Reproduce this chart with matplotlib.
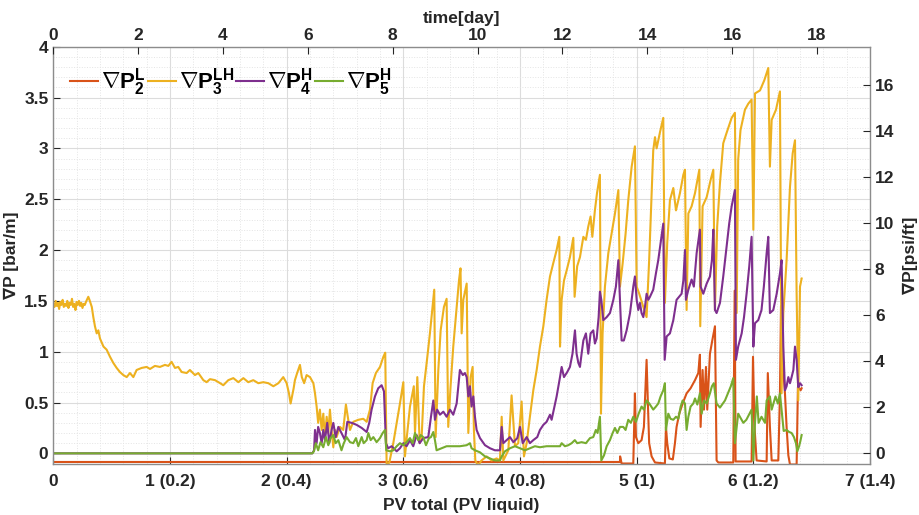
import matplotlib
matplotlib.use("Agg")
import matplotlib.pyplot as plt
from matplotlib.ticker import MultipleLocator

plt.rcParams['font.family'] = ['Liberation Sans', 'DejaVu Sans']
plt.rcParams['font.weight'] = 'bold'
plt.rcParams['mathtext.fontset'] = 'custom'
plt.rcParams['mathtext.rm'] = 'Liberation Sans:bold'
plt.rcParams['mathtext.bf'] = 'Liberation Sans:bold'
plt.rcParams['mathtext.it'] = 'Liberation Sans:bold'

BAR_M_TO_PSI_FT = 4.4207
DAYS_PER_PV = 2.75

# --- dP2^L (lower section) ---
red_x = [0.0, 4.857, 4.858, 4.871, 4.971, 4.985, 4.994, 5.014, 5.042, 5.062, 5.085, 5.097,
         5.107, 5.128, 5.157, 5.242, 5.251, 5.262, 5.28, 5.31, 5.328, 5.342, 5.365, 5.394,
         5.428, 5.462, 5.50, 5.528, 5.542, 5.548, 5.565, 5.577, 5.594, 5.605, 5.628, 5.648,
         5.671, 5.685, 5.70, 5.828, 5.84, 5.848, 5.985, 5.997, 6.01, 6.028, 6.114, 6.124,
         6.142, 6.157, 6.214, 6.228, 6.237, 6.25, 6.271, 6.285, 6.30, 6.314, 6.371, 6.382,
         6.394, 6.405, 6.414]
red_y = [-0.085, -0.085, -0.03, -0.1, -0.1, 0.59, 0.16, 0.10, 0.13, 0.26, 0.92, 0.46,
         0.10, -0.03, -0.09, -0.1, 0.26, 0.10, -0.05, -0.06, 0.10, 0.26, 0.39, 0.49,
         0.59, 0.64, 0.72, 0.79, 0.97, 0.26, 0.82, 0.43, 0.85, 0.43, 0.98, 1.11,
         1.25, -0.07, -0.09, -0.09, 1.6, -0.08, -0.08, 0.95, 0.26, -0.07, -0.08, 0.79,
         0.26, -0.07, -0.07, 0.59, 1.45, 0.92, 0.59, 0.26, -0.02, -0.11, -0.11, 0.65,
         0.64, 0.62, 0.64]

# --- dP3^LH (across both sections) ---
yel_x = [0.0, 0.01, 0.02, 0.03, 0.04, 0.05, 0.06, 0.07, 0.08, 0.09, 0.10, 0.11, 0.12, 0.13,
         0.14, 0.15, 0.16, 0.17, 0.18, 0.19, 0.20, 0.21, 0.22, 0.23, 0.24, 0.25, 0.26, 0.27,
         0.28, 0.30, 0.31, 0.33, 0.343, 0.357, 0.372, 0.386, 0.40, 0.43, 0.457, 0.486, 0.514,
         0.543, 0.571, 0.60, 0.629, 0.657, 0.686, 0.714, 0.757, 0.80, 0.829, 0.871, 0.914,
         0.957, 0.986, 1.014, 1.043, 1.071, 1.10, 1.143, 1.171, 1.214, 1.243, 1.286, 1.314,
         1.343, 1.386, 1.43, 1.457, 1.50, 1.543, 1.586, 1.629, 1.671, 1.714, 1.757, 1.80,
         1.843, 1.886, 1.929, 1.971, 2.0, 2.02, 2.034, 2.06, 2.071, 2.09, 2.114, 2.13, 2.15,
         2.171, 2.20, 2.229, 2.243, 2.257, 2.27, 2.285, 2.30, 2.314, 2.328, 2.343, 2.357,
         2.371, 2.385, 2.40, 2.414, 2.428, 2.457, 2.485, 2.508, 2.528, 2.543, 2.571, 2.614,
         2.657, 2.686, 2.714, 2.737, 2.765, 2.80, 2.829, 2.845, 2.857, 2.88, 2.914, 2.943,
         2.971, 3.0, 3.014, 3.03, 3.057, 3.09, 3.10, 3.12, 3.14, 3.157, 3.177, 3.20, 3.228,
         3.25, 3.265, 3.277, 3.30, 3.32, 3.348, 3.371, 3.385, 3.405, 3.428, 3.457, 3.477,
         3.49, 3.50, 3.514, 3.543, 3.557, 3.577, 3.594, 3.605, 3.617, 3.64, 3.67, 3.714,
         3.757, 3.80, 3.828, 3.843, 3.857, 3.90, 3.928, 3.957, 3.985, 4.014, 4.034, 4.057,
         4.085, 4.114, 4.143, 4.171, 4.20, 4.228, 4.257, 4.285, 4.314, 4.337, 4.343, 4.357,
         4.377, 4.40, 4.428, 4.457, 4.468, 4.49, 4.514, 4.543, 4.565, 4.585, 4.605, 4.62,
         4.642, 4.66, 4.685, 4.694, 4.708, 4.728, 4.757, 4.785, 4.814, 4.843, 4.857, 4.88,
         4.905, 4.928, 4.957, 4.985, 5.0, 5.022, 5.057, 5.085, 5.107, 5.128, 5.142, 5.157,
         5.171, 5.20, 5.228, 5.242, 5.262, 5.285, 5.314, 5.337, 5.371, 5.40, 5.414, 5.428,
         5.443, 5.471, 5.50, 5.537, 5.545, 5.565, 5.60, 5.634, 5.657, 5.671, 5.69, 5.714,
         5.742, 5.77, 5.814, 5.842, 5.857, 5.87, 5.89, 5.928, 5.957, 5.985, 6.0, 6.014,
         6.057, 6.094, 6.128, 6.142, 6.157, 6.194, 6.228, 6.242, 6.257, 6.285, 6.314, 6.337,
         6.357, 6.371, 6.385, 6.40, 6.414]
yel_y = [1.47, 1.44, 1.50, 1.45, 1.48, 1.42, 1.49, 1.46, 1.51, 1.44, 1.47, 1.45, 1.50, 1.43,
         1.48, 1.46, 1.52, 1.44, 1.47, 1.41, 1.49, 1.46, 1.50, 1.45, 1.48, 1.43, 1.47, 1.46,
         1.49, 1.54, 1.51, 1.44, 1.34, 1.25, 1.18, 1.21, 1.13, 1.05, 1.02, 0.95, 0.89,
         0.84, 0.80, 0.77, 0.75, 0.79, 0.75, 0.82, 0.84, 0.85, 0.83, 0.86, 0.85,
         0.87, 0.86, 0.90, 0.84, 0.85, 0.80, 0.79, 0.82, 0.77, 0.79, 0.72, 0.70,
         0.73, 0.72, 0.69, 0.67, 0.72, 0.74, 0.70, 0.74, 0.70, 0.72, 0.69, 0.70,
         0.69, 0.66, 0.69, 0.75, 0.69, 0.59, 0.49, 0.64, 0.72, 0.79, 0.87, 0.75, 0.69,
         0.77, 0.75, 0.69, 0.59, 0.46, 0.30, 0.43, 0.23, 0.39, 0.16, 0.36, 0.20,
         0.43, 0.23, 0.06, 0.23, 0.16, 0.26, 0.23, 0.48, 0.33, 0.23, 0.31, 0.33,
         0.34, 0.31, 0.43, 0.69, 0.79, 0.85, 0.95, 0.99, -0.12, -0.09, 0.10, 0.30,
         0.49, 0.70, -0.03, 0.16, 0.46, 0.66, 0.20, 0.75, 0.10, 0.16, 0.66, 0.89, 1.18,
         1.44, 1.61, 0.16, 0.82, 1.21, 1.44, 1.52, 0.26, 0.66, 1.05, 1.44, 1.70,
         1.82, 1.18, 1.51, 1.67, 0.20, 0.75, 0.85, 0.23, -0.07, -0.12, -0.07, -0.03,
         -0.07, -0.05, -0.07, 0.36, -0.07, 0.03, 0.57, 0.07, 0.10, 0.51, -0.03, 0.10,
         0.36, 0.62, 0.82, 1.05, 1.25, 1.51, 1.74, 1.87, 2.0, 2.13, 1.05, 1.51,
         1.70, 1.80, 1.93, 2.12, 1.54, 1.84, 1.93, 2.13, 2.10, 2.23, 2.33, 2.13,
         2.39, 2.56, 2.74, 0.39, 1.18, 1.64, 1.97, 2.16, 2.36, 2.59, 1.64, 1.87,
         2.16, 2.49, 2.82, 3.02, 1.64, 1.57, 1.44, 1.34, 1.90, 2.56, 2.98, 3.11,
         3.00, 3.16, 3.30, 1.48, 2.07, 2.49, 2.61, 2.39, 2.56, 2.74, 2.79, 1.41,
         2.36, 2.43, 2.56, 2.79, 1.25, 2.43, 2.52, 2.69, 2.79, 1.41, 2.23, 2.66,
         3.05, 3.15, 3.30, 3.35, 1.38, 2.89, 3.18, 3.38, 3.44, 3.48, 2.20, 3.54,
         3.57, 3.67, 3.79, 2.82, 3.28, 3.38, 3.56, 0.59, 1.38, 1.90, 2.62, 2.95,
         3.08, 1.57, 0.52, 1.64, 1.72]

# --- dP4^H (upper section) ---
pur_x = [0.0, 2.22, 2.235, 2.243, 2.257, 2.27, 2.285, 2.30, 2.314, 2.328, 2.348, 2.365, 2.385,
         2.40, 2.42, 2.443, 2.47, 2.50, 2.52, 2.557, 2.60, 2.643, 2.686, 2.708, 2.728,
         2.757, 2.785, 2.814, 2.834, 2.851, 2.87, 2.90, 2.943, 2.971, 3.0, 3.028, 3.057,
         3.085, 3.114, 3.14, 3.171, 3.214, 3.237, 3.257, 3.271, 3.29, 3.314, 3.343, 3.371,
         3.40, 3.428, 3.457, 3.474, 3.485, 3.51, 3.528, 3.543, 3.557, 3.571, 3.585, 3.60,
         3.614, 3.628, 3.657, 3.70, 3.743, 3.785, 3.828, 3.843, 3.857, 3.886, 3.914, 3.943,
         3.977, 4.0, 4.023, 4.057, 4.085, 4.114, 4.148, 4.171, 4.20, 4.228, 4.257, 4.271,
         4.314, 4.343, 4.357, 4.377, 4.405, 4.428, 4.45, 4.471, 4.485, 4.50, 4.514, 4.528,
         4.543, 4.565, 4.585, 4.605, 4.628, 4.642, 4.657, 4.674, 4.685, 4.697, 4.714, 4.743,
         4.771, 4.80, 4.822, 4.843, 4.857, 4.871, 4.89, 4.914, 4.943, 4.971, 4.985, 5.0,
         5.014, 5.028, 5.042, 5.057, 5.071, 5.085, 5.10, 5.114, 5.142, 5.165, 5.185, 5.205,
         5.228, 5.24, 5.257, 5.285, 5.314, 5.342, 5.363, 5.385, 5.40, 5.414, 5.422, 5.443,
         5.471, 5.49, 5.514, 5.542, 5.548, 5.571, 5.60, 5.628, 5.645, 5.657, 5.671, 5.685,
         5.714, 5.742, 5.77, 5.793, 5.814, 5.842, 5.851, 5.87, 5.90, 5.92, 5.942, 5.965,
         5.985, 6.0, 6.014, 6.042, 6.07, 6.09, 6.114, 6.128, 6.142, 6.171, 6.20, 6.228,
         6.242, 6.257, 6.271, 6.285, 6.30, 6.314, 6.328, 6.343, 6.357, 6.371, 6.385, 6.40,
         6.414]
pur_y = [0.0, 0.0, 0.03, 0.23, 0.10, 0.26, 0.20, 0.10, 0.23, 0.13, 0.30, 0.10, 0.23,
         0.30, 0.16, 0.26, 0.20, 0.13, 0.31, 0.30, 0.28, 0.25, 0.21, 0.30, 0.43,
         0.56, 0.64, 0.67, 0.61, 0.10, 0.05, 0.07, 0.02, 0.05, 0.10, 0.07, 0.13,
         0.07, 0.18, 0.10, 0.15, 0.16, 0.36, 0.52, 0.33, 0.43, 0.38, 0.41, 0.36,
         0.43, 0.38, 0.49, 0.69, 0.82, 0.77, 0.79, 0.75, 0.56, 0.66, 0.46, 0.56,
         0.36, 0.23, 0.15, 0.08, 0.05, 0.03, 0.03, 0.26, 0.10, 0.13, 0.16, 0.11,
         0.15, 0.26, 0.10, 0.16, 0.10, 0.13, 0.16, 0.23, 0.28, 0.31, 0.38, 0.33,
         0.56, 0.75, 0.85, 0.75, 0.80, 0.85, 0.98, 1.21, 0.98, 0.89, 0.85, 0.98,
         1.11, 1.18, 0.98, 1.18, 1.21, 1.08, 1.13, 1.34, 1.59, 1.51, 1.31, 1.34,
         1.38, 1.51, 1.64, 1.90, 1.51, 1.11, 1.11, 1.21, 1.38, 1.64, 1.74, 1.51,
         1.41, 1.48, 1.38, 1.34, 1.44, 1.57, 1.51, 1.54, 1.61, 1.77, 1.90, 2.07,
         2.26, 0.92, 1.15, 1.18, 1.31, 1.51, 1.54, 1.57, 1.70, 2.00, 1.51, 1.61,
         1.71, 1.64, 1.97, 2.20, 1.64, 1.57, 1.67, 1.74, 1.90, 2.20, 1.41, 1.38,
         1.48, 1.74, 2.03, 2.26, 2.43, 2.59, 0.92, 1.05, 1.18, 1.34, 1.57, 1.84,
         2.13, 1.05, 1.28, 1.31, 1.41, 1.64, 1.97, 2.13, 1.38, 1.41, 1.57, 1.77,
         1.90, 1.05, 0.62, 0.66, 0.75, 0.69, 0.75, 0.82, 1.05, 0.92, 0.65, 0.69,
         0.67]

# --- dP5^H (upper section) ---
grn_x = [0.0, 2.22, 2.234, 2.25, 2.27, 2.29, 2.314, 2.337, 2.357, 2.377, 2.40, 2.42, 2.443,
         2.47, 2.49, 2.514, 2.543, 2.571, 2.594, 2.614, 2.643, 2.66, 2.686, 2.70, 2.72,
         2.743, 2.771, 2.80, 2.823, 2.843, 2.854, 2.885, 2.914, 2.943, 2.971, 3.0, 3.028,
         3.057, 3.08, 3.10, 3.128, 3.148, 3.171, 3.194, 3.22, 3.237, 3.257, 3.271, 3.285,
         3.328, 3.371, 3.428, 3.485, 3.543, 3.571, 3.585, 3.614, 3.657, 3.70, 3.743, 3.785,
         3.828, 3.843, 3.871, 3.914, 3.957, 4.0, 4.043, 4.085, 4.128, 4.171, 4.228, 4.257,
         4.343, 4.357, 4.385, 4.414, 4.443, 4.47, 4.49, 4.528, 4.565, 4.60, 4.628, 4.65,
         4.665, 4.685, 4.697, 4.72, 4.743, 4.771, 4.794, 4.814, 4.834, 4.857, 4.885, 4.905,
         4.928, 4.95, 4.971, 4.994, 5.017, 5.042, 5.062, 5.085, 5.108, 5.142, 5.165, 5.185,
         5.205, 5.228, 5.242, 5.251, 5.271, 5.29, 5.314, 5.337, 5.357, 5.377, 5.394, 5.414,
         5.428, 5.443, 5.462, 5.485, 5.50, 5.52, 5.542, 5.557, 5.577, 5.60, 5.628, 5.645,
         5.661, 5.685, 5.714, 5.757, 5.785, 5.807, 5.828, 5.842, 5.87, 5.914, 5.94, 5.985,
         6.0, 6.014, 6.03, 6.045, 6.07, 6.10, 6.114, 6.142, 6.157, 6.19, 6.21, 6.228,
         6.242, 6.26, 6.285, 6.307, 6.328, 6.348, 6.365, 6.377, 6.392, 6.403, 6.414]
grn_y = [0.0, 0.0, 0.02, 0.10, 0.03, 0.11, 0.06, 0.16, 0.08, 0.15, 0.18, 0.10, 0.13,
         0.03, 0.10, 0.16, 0.11, 0.10, 0.15, 0.07, 0.16, 0.10, 0.13, 0.20, 0.13,
         0.16, 0.11, 0.15, 0.20, 0.23, 0.03, 0.02, 0.03, 0.07, 0.10, 0.08, 0.11,
         0.15, 0.10, 0.20, 0.13, 0.18, 0.16, 0.08, 0.15, 0.16, 0.21, 0.13, 0.03,
         0.05, 0.07, 0.07, 0.07, 0.08, 0.10, 0.05, 0.03, 0.01, -0.03, -0.05, -0.07,
         -0.07, -0.03, 0.02, 0.05, 0.07, 0.05, 0.03, 0.05, 0.07, 0.06, 0.07, 0.07,
         0.07, 0.10, 0.07, 0.08, 0.10, 0.13, 0.10, 0.11, 0.10, 0.15, 0.16, 0.23,
         0.20, 0.36, -0.07, -0.02, 0.07, 0.13, 0.20, 0.25, 0.20, 0.26, 0.26, 0.23,
         0.33, 0.30, 0.36, 0.31, 0.39, 0.46, 0.43, 0.52, 0.49, 0.43, 0.46, 0.49,
         0.56, 0.62, 0.69, 0.23, 0.39, 0.34, 0.33, 0.36, 0.34, 0.46, 0.52, 0.49,
         0.23, 0.36, 0.46, 0.49, 0.54, 0.48, 0.59, 0.39, 0.52, 0.49, 0.59, 0.66,
         0.69, 0.49, 0.45, 0.52, 0.60, 0.66, 0.74, 0.10, 0.39, 0.30, 0.33, 0.43,
         -0.07, 0.30, 0.56, 0.30, 0.36, 0.30, 0.52, 0.56, 0.43, 0.56, 0.49, 0.59,
         0.43, 0.22, 0.23, 0.21, 0.20, 0.16, 0.10, 0.02, 0.07, 0.12, 0.18]

series = [
    (red_x, red_y, '#D95319', r'$\mathbf{\nabla P_2^L}$'),
    (yel_x, yel_y, '#EDB120', r'$\mathbf{\nabla P_3^{LH}}$'),
    (pur_x, pur_y, '#7E2F8E', r'$\mathbf{\nabla P_4^H}$'),
    (grn_x, grn_y, '#77AC30', r'$\mathbf{\nabla P_5^H}$'),
]

fig = plt.figure(figsize=(9.19, 5.15), dpi=100)
ax = fig.add_axes([0.058, 0.099, 0.8887, 0.8103])

for x, y, c, lab in series:
    ax.plot(x, y, color=c, lw=1.5, label=lab)

ax.set_xlim(0, 7)
ax.set_ylim(-0.105, 4)
ax.xaxis.set_minor_locator(MultipleLocator(0.2))
ax.yaxis.set_minor_locator(MultipleLocator(0.1))
ax.set_xticks([0, 1, 2, 3, 4, 5, 6, 7])
ax.set_xticklabels(['0', '1 (0.2)', '2 (0.4)', '3 (0.6)', '4 (0.8)', '5 (1)', '6 (1.2)', '7 (1.4)'])
ax.set_yticks([0, 0.5, 1, 1.5, 2, 2.5, 3, 3.5, 4])
ax.set_yticklabels(['0', '0.5', '1', '1.5', '2', '2.5', '3', '3.5', '4'])

ax.grid(which='major', color='#dcdcdc', lw=0.8, ls='-')
ax.grid(which='minor', color='#e4e4e4', lw=0.7, ls=':')
ax.set_axisbelow(True)

ax.tick_params(which='both', direction='in', labelsize=12.5, colors='#262626', length=5)
ax.tick_params(axis='x', pad=7)
ax.tick_params(which='minor', length=0)
ax.tick_params(axis='y', right=False)
for s in ax.spines.values():
    s.set_color('#8c8c8c')
    s.set_linewidth(1.0)

ax.set_xlabel('PV total (PV liquid)', fontsize=12.5, fontweight='bold', color='#262626', labelpad=7)
ax.set_ylabel('∇P [bar/m]', fontsize=12.5, fontweight='bold', color='#262626', labelpad=4)

axr = ax.twinx()
axr.set_ylim(-0.105 * BAR_M_TO_PSI_FT, 4 * BAR_M_TO_PSI_FT)
axr.set_yticks([0, 2, 4, 6, 8, 10, 12, 14, 16])
axr.tick_params(direction='in', labelsize=12.5, colors='#262626', length=5)
axr.set_ylabel('∇P[psi/ft]', fontsize=12.5, fontweight='bold', color='#262626', labelpad=6)
for s in axr.spines.values():
    s.set_visible(False)

axt = ax.twiny()
axt.set_xlim(0, 7 * DAYS_PER_PV)
axt.set_xticks([0, 2, 4, 6, 8, 10, 12, 14, 16, 18])
axt.tick_params(direction='in', labelsize=12.5, colors='#262626', length=5, pad=3)
axt.set_xlabel('time[day]', fontsize=12.5, fontweight='bold', color='#262626', labelpad=3)
for s in axt.spines.values():
    s.set_visible(False)

leg = ax.legend(loc='upper left', bbox_to_anchor=(0.004, 0.985), ncol=4, frameon=False,
                fontsize=16, handlelength=1.25, handletextpad=0.15, columnspacing=0.1,
                borderaxespad=0.2)

fig.savefig('out.png', dpi=100)
